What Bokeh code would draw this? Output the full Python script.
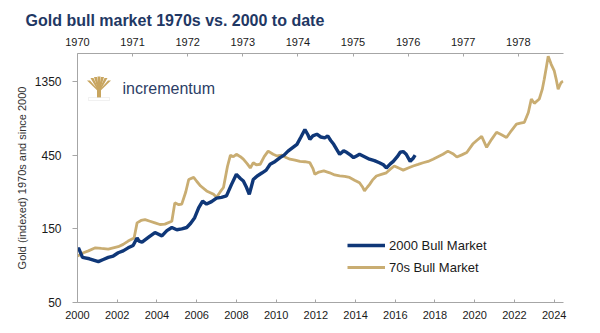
from bokeh.plotting import figure
from bokeh.models import (Range1d, LinearAxis, FixedTicker, Label, PolyAnnotation,
                          BoxAnnotation, Legend, LegendItem, PrintfTickFormatter)
from bokeh.embed import file_html
from bokeh.resources import INLINE

# ---------------- data ----------------
bull2000_years = [2000.00, 2000.05, 2000.25, 2000.6, 2001.05, 2001.3, 2001.55, 2001.8, 2002.05, 2002.3,
                  2002.55, 2002.8, 2003.0, 2003.1, 2003.25, 2003.6, 2003.9, 2004.25, 2004.5, 2004.75,
                  2005.0, 2005.25, 2005.5, 2005.7, 2005.9, 2006.1, 2006.3, 2006.5, 2006.75, 2007.0,
                  2007.25, 2007.5, 2007.75, 2008.0, 2008.2, 2008.35, 2008.5, 2008.65, 2008.85, 2009.05,
                  2009.3, 2009.5, 2009.7, 2009.95, 2010.2, 2010.4, 2010.6, 2010.8, 2011.05, 2011.25,
                  2011.45, 2011.6, 2011.7, 2011.85, 2012.05, 2012.25, 2012.45, 2012.6, 2012.75, 2012.9,
                  2013.05, 2013.2, 2013.4, 2013.55, 2013.75, 2013.9, 2014.05, 2014.2, 2014.45, 2014.7,
                  2014.95, 2015.2, 2015.4, 2015.55, 2015.75, 2015.9, 2016.1, 2016.25, 2016.4, 2016.55,
                  2016.75, 2016.9, 2017.0]
bull2000_vals = [108, 113, 98, 96, 92, 95, 98, 100, 105, 108,
                 113, 117, 131, 125, 123, 133, 142, 135, 146, 153,
                 148, 150, 153, 163, 177, 205, 227, 217, 225, 237,
                 240, 245, 290, 338, 318, 306, 280, 251, 313, 330,
                 346, 360, 393, 410, 434, 450, 478, 500, 529, 590,
                 660, 610, 569, 600, 615, 590, 582, 600, 560, 529,
                 490, 456, 480, 470, 450, 434, 445, 456, 440, 424,
                 415, 402, 390, 372, 395, 410, 440, 470, 475, 456,
                 410, 430, 450]

bull70_years = [2000.0, 2000.3, 2000.55, 2000.9, 2001.2, 2001.55, 2001.8, 2002.05, 2002.3, 2002.55,
                2002.85, 2003.0, 2003.2, 2003.4, 2003.65, 2003.9, 2004.15, 2004.4, 2004.75, 2004.9,
                2005.1, 2005.25, 2005.45, 2005.6, 2005.85, 2006.0, 2006.2, 2006.5, 2006.85, 2007.0,
                2007.2, 2007.35, 2007.55, 2007.7, 2007.85, 2008.0, 2008.2, 2008.35, 2008.55, 2008.7,
                2008.85, 2009.0, 2009.2, 2009.4, 2009.6, 2009.85, 2010.05, 2010.3, 2010.5, 2010.7,
                2010.95, 2011.2, 2011.45, 2011.7, 2011.85, 2011.95, 2012.15, 2012.4, 2012.7, 2012.95,
                2013.2, 2013.45, 2013.7, 2013.95, 2014.2, 2014.35, 2014.45, 2014.6, 2014.7, 2014.85,
                2015.05, 2015.3, 2015.55, 2015.75, 2015.95, 2016.2, 2016.4, 2016.65, 2016.9, 2017.15,
                2017.4, 2017.65, 2017.9, 2018.15, 2018.4, 2018.65, 2018.9, 2019.1, 2019.35, 2019.6,
                2019.9, 2020.1, 2020.35, 2020.6, 2020.85, 2021.1, 2021.35, 2021.6, 2021.85, 2022.1,
                2022.3, 2022.5, 2022.7, 2022.85, 2023.0, 2023.25, 2023.4, 2023.5, 2023.6, 2023.7,
                2023.78, 2023.85, 2024.0, 2024.1, 2024.2, 2024.3, 2024.35, 2024.45]
bull70_vals = [100, 105, 108, 113, 112, 111, 113, 115, 119, 125,
               131, 164, 170, 172, 168, 164, 160, 161, 168, 221,
               215, 217, 260, 313, 323, 305, 284, 264, 251, 240,
               262, 278, 380, 450, 440, 456, 440, 424, 395, 372,
               402, 390, 393, 440, 478, 456, 445, 450, 435, 424,
               418, 410, 408, 402, 370, 338, 350, 356, 346, 335,
               330, 328, 323, 310, 298, 280, 264, 280, 290, 310,
               330, 338, 346, 365, 383, 370, 360, 372, 383, 392,
               402, 410, 424, 440, 456, 478, 460, 438, 452, 468,
               531, 560, 595, 506, 570, 633, 610, 586, 650, 714,
               725, 735, 850, 1040, 975, 1040, 1200, 1395, 1650, 1970,
               1850, 1745, 1590, 1400, 1205, 1290, 1330, 1360]

bottom_ticks = list(range(2000, 2025, 2))
top_ticks = list(range(1970, 1979))
y_ticks = [50, 150, 450, 1350]

title_text = "Gold bull market 1970s vs. 2000 to date"
y_label = "Gold (indexed) 1970s and since 2000"
series_names = ["2000 Bull Market", "70s Bull Market"]

# ---------------- styling ----------------
NAVY = "#0f3778"
GOLD = "#c9ad72"
AXIS = "#a6a6a6"
TXT = "#1a1a1a"
FONT = "Liberation Sans"

p = figure(width=600, height=333, output_backend="svg", toolbar_location=None,
           y_axis_type="log", x_range=Range1d(2000, 2024.47), y_range=Range1d(50, 2050),
           min_border_left=77, min_border_right=37, min_border_top=53, min_border_bottom=31)
p.outline_line_color = None
p.grid.visible = False
p.background_fill_color = "white"
p.border_fill_color = "white"

# title
p.title.text = title_text
p.title.align = "left"
p.title.offset = -52
p.title.text_font = FONT
p.title.text_font_size = "16px"
p.title.text_font_style = "bold"
p.title.text_color = "#1f3864"
p.title.standoff = 11

# lines
r70 = p.line(bull70_years, bull70_vals, line_color=GOLD, line_width=2.8)
r00 = p.line(bull2000_years, bull2000_vals, line_color=NAVY, line_width=3.4)

# bottom axis
xa = p.xaxis[0]
xa.ticker = FixedTicker(ticks=bottom_ticks)
xa.axis_line_color = AXIS
xa.major_tick_line_color = AXIS
xa.major_tick_in = 3
xa.major_tick_out = 0
xa.minor_tick_line_color = None
xa.major_label_standoff = 8
xa.major_label_text_font = FONT
xa.major_label_text_font_size = "11px"
xa.major_label_text_color = TXT

# left axis
ya = p.yaxis[0]
ya.ticker = FixedTicker(ticks=y_ticks)
ya.formatter = PrintfTickFormatter(format="%d")
ya.axis_line_color = AXIS
ya.major_tick_line_color = AXIS
ya.major_tick_in = 0
ya.major_tick_out = 5
ya.minor_tick_line_color = None
ya.major_label_standoff = 11
ya.major_label_text_font = FONT
ya.major_label_text_font_size = "12px"
ya.major_label_text_color = TXT
ya.axis_label = y_label
ya.axis_label_text_font = FONT
ya.axis_label_text_font_size = "11px"
ya.axis_label_text_font_style = "normal"
ya.axis_label_text_color = "#333333"
ya.axis_label_standoff = 4

# top axis (1970s time scale)
p.extra_x_ranges = {"top": Range1d(1970, 1978.82)}
ta = LinearAxis(x_range_name="top", ticker=FixedTicker(ticks=top_ticks))
ta.axis_line_color = AXIS
ta.major_tick_line_color = AXIS
ta.major_tick_in = 3
ta.major_tick_out = 0
ta.minor_tick_line_color = None
ta.major_label_standoff = 8
ta.major_label_text_font = FONT
ta.major_label_text_font_size = "11px"
ta.major_label_text_color = TXT
p.add_layout(ta, "above")

# logo text
p.add_layout(Label(x=45, y=214, x_units="screen", y_units="screen", text="incrementum",
                   text_font=FONT, text_font_size="16px", text_color="#2c3e66",
                   text_baseline="middle", text_align="left"))

# logo icon (decorative tree)
def sc(cx, cy):
    return cx - 77, 302 - cy

tops = [(88, 80), (91.5, 77.5), (95, 76.5), (98.5, 76), (102, 76.5), (105.5, 77.5), (109, 80)]
for tx, ty in tops:
    pts = [(97.8, 91), (99.2, 91), (tx + 1.5, ty), (tx - 1.5, ty)]
    xs = [sc(a, b)[0] for a, b in pts]
    ys = [sc(a, b)[1] for a, b in pts]
    p.add_layout(PolyAnnotation(xs=xs, ys=ys, xs_units="screen", ys_units="screen",
                                fill_color="#c8a55f", fill_alpha=1, line_color=None))
l, t = sc(96.5, 88)
r, b = sc(100.5, 97)
p.add_layout(BoxAnnotation(left=l, right=r, top=t, bottom=b, left_units="screen",
                           right_units="screen", top_units="screen", bottom_units="screen",
                           fill_color="#c8a55f", fill_alpha=1, line_color=None))
l, t = sc(88, 97)
r, b = sc(109, 100)
p.add_layout(BoxAnnotation(left=l, right=r, top=t, bottom=b, left_units="screen",
                           right_units="screen", top_units="screen", bottom_units="screen",
                           fill_color=None, fill_alpha=0, line_color="#d0d0d0", line_width=1))

# legend
legend = Legend(items=[LegendItem(label=series_names[0], renderers=[r00]),
                       LegendItem(label=series_names[1], renderers=[r70])],
                location=(270, 25), orientation="vertical",
                glyph_width=38, glyph_height=20, label_height=20, label_standoff=4,
                spacing=2, padding=0, margin=0,
                border_line_color=None, background_fill_alpha=0,
                label_text_font=FONT, label_text_font_size="13px", label_text_color=TXT)
p.add_layout(legend)

open("out.html", "w").write(file_html(p, INLINE))
